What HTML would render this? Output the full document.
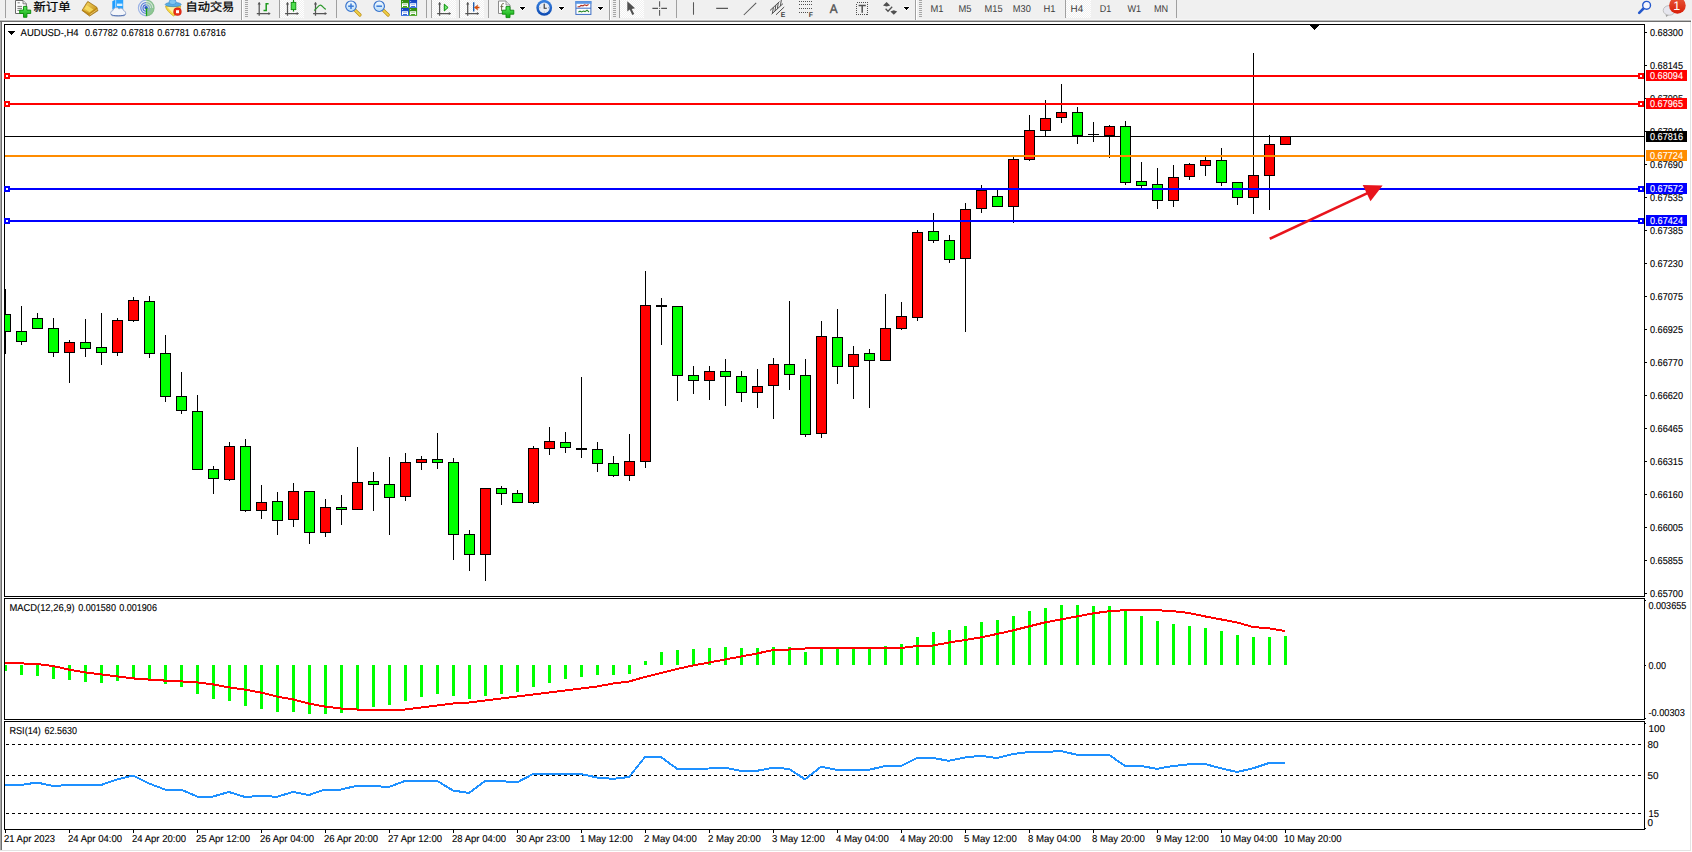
<!DOCTYPE html>
<html lang="zh-CN"><head><meta charset="utf-8"><title>AUDUSD-,H4</title>
<style>html,body{margin:0;padding:0;background:#fff;overflow:hidden}body{width:1692px;height:852px}svg text{white-space:pre}</style>
</head><body>
<svg width="1692" height="852" viewBox="0 0 1692 852" font-family="'Liberation Sans', 'Noto Sans CJK SC', sans-serif" text-rendering="geometricPrecision" style="display:block">
<rect x="0" y="0" width="1692" height="852" fill="#FFFFFF"/>
<g shape-rendering="crispEdges">
<rect x="0" y="0" width="1692" height="19" fill="#F0F0F0"/>
<rect x="0" y="19" width="1692" height="1" fill="#F6F6F6"/>
<rect x="0" y="20" width="1691" height="1" fill="#BDBDBD"/>
<rect x="0" y="21" width="1691" height="1" fill="#6D6D6D"/>
<rect x="0" y="22" width="1" height="829" fill="#A8A8A8"/>
<rect x="1" y="22" width="1" height="829" fill="#6D6D6D"/>
<rect x="1690" y="22" width="1" height="829" fill="#E3E3E3"/>
<rect x="0" y="850" width="1691" height="1" fill="#E3E3E3"/>
</g>
<defs>
<linearGradient id="gGold" x1="0" y1="0" x2="1" y2="1"><stop offset="0" stop-color="#F8DC6A"/><stop offset="1" stop-color="#C08A14"/></linearGradient>
<linearGradient id="gPlus" x1="0" y1="0" x2="0" y2="1"><stop offset="0" stop-color="#5CE85C"/><stop offset="1" stop-color="#0FA80F"/></linearGradient>
<linearGradient id="gBlue" x1="0" y1="0" x2="0" y2="1"><stop offset="0" stop-color="#6CB8F4"/><stop offset="1" stop-color="#2A78D8"/></linearGradient>
<linearGradient id="gBadge" x1="0" y1="0" x2="0" y2="1"><stop offset="0" stop-color="#E8583A"/><stop offset="1" stop-color="#D81E08"/></linearGradient>
<linearGradient id="gGlass" x1="0" y1="0" x2="0" y2="1"><stop offset="0" stop-color="#F4FAFF"/><stop offset="1" stop-color="#B8DCF8"/></linearGradient>
<g id="axes"><path d="M2.5 2.6V15.7M0.1 13.5H13.2" stroke="#555555" stroke-width="1.25" fill="none"/><path d="M0.9 4.4L2.5 1.9L4.1 4.4zM11.7 11.9L14 13.5L11.7 15.1z" fill="#555555"/></g>
<pattern id="chk" width="2" height="2" patternUnits="userSpaceOnUse"><rect width="2" height="2" fill="#F0F0F0"/><rect width="1" height="1" fill="#FFF"/><rect x="1" y="1" width="1" height="1" fill="#FFF"/></pattern>
<g id="dd" shape-rendering="crispEdges"><g fill="#FFF"><rect x="0" y="-1" width="5" height="1"/><rect x="-1" y="0" width="7" height="1"/><rect x="0" y="1" width="5" height="1"/><rect x="1" y="2" width="3" height="1"/><rect x="2" y="3" width="1" height="1"/></g><g fill="#000"><rect x="0" y="0" width="5" height="1"/><rect x="1" y="1" width="3" height="1"/><rect x="2" y="2" width="1" height="1"/></g></g>
<g id="grip" shape-rendering="crispEdges" fill="#A6A6A6"><rect y="1" width="3" height="1"/><rect y="3" width="3" height="1"/><rect y="5" width="3" height="1"/><rect y="7" width="3" height="1"/><rect y="9" width="3" height="1"/><rect y="11" width="3" height="1"/><rect y="13" width="3" height="1"/><rect y="15" width="3" height="1"/><rect y="17" width="3" height="1"/></g>
</defs>
<g id="toolbar">
<!-- pressed button backgrounds -->
<g shape-rendering="crispEdges" fill="url(#chk)">
<rect x="280" y="0" width="24" height="18"/><rect x="432" y="0" width="24" height="18"/><rect x="460" y="0" width="24" height="18"/><rect x="620" y="0" width="24" height="18"/><rect x="1066" y="0" width="25" height="18"/>
</g>
<!-- separators -->
<g shape-rendering="crispEdges" fill="#A0A0A0">
<rect x="5" y="0" width="1" height="18"/>
<rect x="241" y="0" width="1" height="20"/><rect x="609" y="0" width="1" height="20"/><rect x="915" y="0" width="1" height="20"/>
<rect x="279" y="0" width="1" height="18"/><rect x="336" y="0" width="1" height="18"/><rect x="426" y="0" width="1" height="18"/><rect x="431" y="0" width="1" height="18"/><rect x="459" y="0" width="1" height="18"/><rect x="488" y="0" width="1" height="18"/>
<rect x="619" y="0" width="1" height="18"/><rect x="676" y="0" width="1" height="18"/><rect x="1065" y="0" width="1" height="18"/><rect x="1176" y="0" width="1" height="18"/>
</g>
<g shape-rendering="crispEdges" fill="#FFFFFF"><rect x="242" y="0" width="1" height="20"/><rect x="610" y="0" width="1" height="20"/><rect x="916" y="0" width="1" height="20"/></g>
<use href="#grip" x="245" y="-1"/><use href="#grip" x="613" y="-1"/><use href="#grip" x="919" y="-1"/>

<!-- new order -->
<path d="M15.5 .5H23L26.3 3.8V13.5H15.5z" fill="#FDFDFD" stroke="#6A6A6A"/>
<path d="M23 .5V3.8H26.3" fill="#E4E4E4" stroke="#6A6A6A" stroke-width=".8"/>
<path d="M17.6 2.8H19.8M17.4 6.4H22M17.4 8.4H22M17.4 10.4H20" stroke="#7A7A7A" stroke-width="1"/>
<path d="M23.5 6.4h3.4v3.7h3.8v3.4h-3.8v3.8h-3.4v-3.8h-3.8v-3.4h3.8z" fill="url(#gPlus)" stroke="#0B8A0B" stroke-width=".9"/>
<text x="33.5" y="11.2" font-size="11.8" fill="#000" stroke="#000" stroke-width=".25" textLength="37" lengthAdjust="spacingAndGlyphs">新订单</text>
<!-- book -->
<path d="M87.8 1.4L96.8 7.2L98 10.6L89.6 16.1L82 10.4C83.6 8 86 3.6 87.8 1.4z" fill="#C08A14" stroke="#9A6A08" stroke-width=".7"/>
<path d="M88 2.2L96.4 7.6L89.2 13.6L83 9.8C84.4 7.6 86.4 4.2 88 2.2z" fill="url(#gGold)"/>
<path d="M86.6 5.2L93.4 9.4L89.6 12.2L84.6 8.8z" fill="#FCE264" fill-opacity=".8"/>
<path d="M89.7 14.8L97.5 9.4" stroke="#F0D890" stroke-width=".7"/>
<!-- box + cloud -->
<path d="M112.3 1.2L115.7 -0.5H123.1V9.4H112.3z" fill="#1E9CFF"/>
<path d="M115.7 -0.5V9.4H123.1V-0.5z" fill="#2AA4FF"/><path d="M115.7 -0.5V9.4" stroke="#D0ECFF" stroke-width=".8"/>
<rect x="117" y="3.6" width="5.4" height="2.4" fill="#D8F0FF"/>
<path d="M112.6 15.8a2.7 2.7 0 0 1 .4-5.3a3.3 3.3 0 0 1 6-1.5a2.7 2.7 0 0 1 4.6 1.7a2.6 2.6 0 0 1 .2 5.1z" fill="#F4F6FA" stroke="#90A4CC" stroke-width=".8"/>
<path d="M111.2 14.4C112.2 16.4 124.4 16.4 125.4 14.2" fill="none" stroke="#5070B0" stroke-width="1"/>
<!-- signal -->
<path d="M146.3 0a8 8 0 0 1 0 16z" fill="#CFE6CF"/>
<path d="M146.6 8L154 8A7.8 7.8 0 0 1 146.6 15.9z" fill="#8FCB8F"/>
<g fill="none" stroke-width="1.2">
<path d="M146.2 0.2a7.8 7.8 0 0 0 0 15.6" stroke="#9CB4E6"/><path d="M146.2 2.6a5.4 5.4 0 0 0 0 10.8" stroke="#5C82DA"/><path d="M146.2 4.8a3.2 3.2 0 0 0 0 6.4" stroke="#4670D6"/>
<path d="M146.2 0.2a7.8 7.8 0 0 1 0 15.6" stroke="#86BE8E"/><path d="M146.2 2.6a5.4 5.4 0 0 1 0 10.8" stroke="#8FBFA4"/><path d="M146.2 4.8a3.2 3.2 0 0 1 0 6.4" stroke="#88AED0"/>
</g>
<circle cx="146.1" cy="7.7" r="1.7" fill="#2858C8"/><path d="M146.5 8.2V15.9" stroke="#18A018" stroke-width="1.3"/>
<!-- autotrading -->
<path d="M165.6 6H180.6C180.6 9.5 177 14.5 173.6 16C170.6 14 165.6 9.6 165.6 6z" fill="#F6D848" stroke="#C8A018" stroke-width=".7"/>
<path d="M167.2 7H176.5L172.6 13z" fill="#FBEFA0"/>
<ellipse cx="173.2" cy="4.5" rx="8" ry="2.2" fill="#58AEE4" stroke="#2F80C4" stroke-width=".6"/>
<ellipse cx="172.6" cy="2" rx="3.6" ry="2.6" fill="#7CC4F0" stroke="#3A8CD0" stroke-width=".6"/>
<circle cx="177.5" cy="11.7" r="4.1" fill="#D42010"/><circle cx="177.5" cy="11.7" r="3.4" fill="#E83018"/><rect x="176" y="10.2" width="3" height="3" fill="#FFF"/>
<text x="185.5" y="11.2" font-size="11.8" fill="#000" stroke="#000" stroke-width=".25" textLength="48.8" lengthAdjust="spacingAndGlyphs">自动交易</text>

<!-- chart type icons -->
<use href="#axes" x="256.7"/>
<path d="M263.5 10.5H266.2V3.8H268.6" fill="none" stroke="#1E9A1E" stroke-width="1.5"/>
<use href="#axes" x="285"/>
<path d="M293.5 0V11.6" stroke="#118A11" stroke-width="1.2"/><rect x="291.2" y="2.4" width="4.6" height="7.2" fill="#4CE04C" stroke="#118A11" stroke-width=".9"/>
<use href="#axes" x="313"/>
<path d="M314.2 10.6C317 8.5 318.5 5 320.4 5.2C322.4 5.4 323.5 8.4 325.8 9.4" fill="none" stroke="#2E9A2E" stroke-width="1.2"/>
<!-- zoom in / out -->
<g id="zin"><path d="M355 10.2L360 15" stroke="#B88A10" stroke-width="3.2" stroke-linecap="round"/><path d="M355 10.2L360 15" stroke="#F0D048" stroke-width="1.8" stroke-linecap="round"/>
<circle cx="351" cy="6.2" r="5.25" fill="url(#gGlass)" stroke="#3672CC" stroke-width="1.15"/><path d="M348.2 6.2H353.8" stroke="#3A7AD6" stroke-width="1.5"/></g>
<path d="M351 3.4V9" stroke="#3A7AD6" stroke-width="1.5"/>
<use href="#zin" x="28.2"/>
<!-- tile -->
<defs><linearGradient id="gTg" x1="0" y1="0" x2="0" y2="1"><stop offset="0" stop-color="#2E8A0C"/><stop offset="1" stop-color="#4CA828"/></linearGradient><linearGradient id="gTb" x1="0" y1="0" x2="0" y2="1"><stop offset="0" stop-color="#1240C0"/><stop offset="1" stop-color="#3A70E0"/></linearGradient></defs>
<g><rect x="401" y="0" width="8" height="7.9" fill="url(#gTg)"/><rect x="409.1" y="0" width="8" height="7.9" fill="url(#gTb)"/><rect x="401" y="8" width="8" height="7.9" fill="url(#gTb)"/><rect x="409.1" y="8" width="8" height="7.9" fill="url(#gTg)"/>
<g fill="#FFFFFF"><path d="M402 3.2h6v3.8h-1v-1h-4v1h-1z"/><path d="M410.1 3.2h6v3.8h-1v-1h-4v1h-1z"/><path d="M402 11.2h6v3.8h-1v-1h-4v1h-1z"/><path d="M410.1 11.2h6v3.8h-1v-1h-4v1h-1z"/>
<rect x="402.2" y="1.2" width=".8" height=".8"/><rect x="410.3" y="1.2" width=".8" height=".8"/><rect x="402.2" y="9.2" width=".8" height=".8"/><rect x="410.3" y="9.2" width=".8" height=".8"/></g>
<g stroke-width=".8"><path d="M403 4.6H407" stroke="#9CCB88"/><path d="M411.1 4.6H415.1" stroke="#8CA8EC"/><path d="M403 12.6H407" stroke="#8CA8EC"/><path d="M411.1 12.6H415.1" stroke="#9CCB88"/></g></g>
<!-- autoscroll / shift -->
<use href="#axes" x="437.1"/><path d="M444.3 4.2V10.9L448.1 7.5z" fill="#70EC70" stroke="#0C8E0C" stroke-width="1"/>
<use href="#axes" x="465.2"/><path d="M473.7 2.3V11.6" stroke="#1E5EB0" stroke-width="1.4"/><path d="M474.3 7.5L477.8 4.9L477.2 6.9H479.2V8.1H477.2L477.8 10.1z" fill="#E05008" stroke="#B83808" stroke-width=".4"/>
<!-- indicators -->
<path d="M498.5 1H506L510 5V13.5H498.5z" fill="#FDFDFD" stroke="#8C8C8C"/><path d="M506 1V5H510" fill="#E4E4E4" stroke="#8C8C8C" stroke-width=".8"/>
<path d="M503.8 3.6C502 3.2 501.6 4.6 501.6 6V11M500.4 6.6H503.4" fill="none" stroke="#6E6A4A" stroke-width="1"/>
<path d="M506 6.6h4v3.6h3.8v4h-3.8v3.4h-4v-3.4h-3.7v-4h3.7z" fill="url(#gPlus)" stroke="#0B8A0B" stroke-width=".9"/>
<use href="#dd" x="520" y="7"/>
<!-- clock -->
<defs><linearGradient id="gClk" x1="0" y1="0" x2="0" y2="1"><stop offset="0" stop-color="#3C86E4"/><stop offset="1" stop-color="#0C48B0"/></linearGradient></defs>
<circle cx="544.2" cy="7.8" r="7.9" fill="url(#gClk)"/><circle cx="544.2" cy="7.8" r="5.4" fill="#E8ECF2"/>
<path d="M544.2 3.9V8.2H546.8" fill="none" stroke="#303030" stroke-width="1.1"/>
<g fill="#8090A8"><rect x="543.8" y="2.8" width=".8" height="1"/><rect x="543.8" y="11.6" width=".8" height="1"/><rect x="539.4" y="7.4" width="1" height=".8"/><rect x="548" y="7.4" width="1" height=".8"/></g>
<use href="#dd" x="559" y="7"/>
<!-- template -->
<rect x="575.9" y="1.6" width="15" height="12.8" fill="#FFFFFF" stroke="#3A6CC4" stroke-width="1"/><rect x="575.4" y="1.2" width="16" height="2.6" fill="#5C98E4"/><path d="M576 8.2H591" stroke="#3A6CC4" stroke-width="1"/>
<path d="M577.6 6.8L579.6 6.6L581 5.4L583 5.8L584.6 4.8L586.6 5.6L588.6 4.6" fill="none" stroke="#B03020" stroke-width="1.1"/>
<path d="M578.4 12L580 11.2L581.6 12L583.4 11L585 11.6L587 10.2L589 12" fill="none" stroke="#2A8A2A" stroke-width="1.1"/>
<use href="#dd" x="598" y="7"/>
<!-- cursor, crosshair, lines -->
<path d="M627.3 1.2V11.6L629.7 9.6L632.3 15L634.2 14.1L631.7 8.9L635 8.3z" fill="#505050"/>
<path d="M652.4 8.4H658M661.2 8.4H667M659.6 1.2V6.8M659.6 10V15.8" stroke="#555" stroke-width="1.05" fill="none"/><rect x="659.1" y="7.9" width="1" height="1" fill="#555"/>
<path d="M693.5 2.3V14.7M716.2 8.4H728" stroke="#585858" stroke-width="1.05" fill="none"/>
<path d="M743.8 15L756.2 2.8" stroke="#585858" stroke-width="1.05" fill="none"/>
<!-- channel -->
<g stroke="#505050" stroke-width="1" fill="none"><path d="M770 10.5L779.5 1.6M771.6 14.2L783 3.6M776 14.8L784.2 7"/><path d="M773.4 7.4L772.4 13.4M775.8 5.2L775 11M778.2 3L777.4 9M781.4 -0.5L780.4 6"/></g>
<text x="780.8" y="16.6" font-size="6.8" font-weight="bold" fill="#404040">E</text>
<!-- fib -->
<g stroke="#505050" stroke-width="1" stroke-dasharray="1 1" fill="none" shape-rendering="crispEdges"><path d="M799 1.5H812M799 4.5H812M799 8.5H812M799 12.5H808"/></g>
<text x="808.8" y="16.6" font-size="6.8" font-weight="bold" fill="#404040">F</text>
<text x="829.7" y="13" font-size="12.4" fill="#505050" stroke="#505050" stroke-width=".4" textLength="7.8" lengthAdjust="spacingAndGlyphs">A</text>
<rect x="856.5" y="2.5" width="11" height="12" fill="none" stroke="#505050" stroke-width="1" stroke-dasharray="1 1" shape-rendering="crispEdges"/>
<path d="M858.6 5.6H865.8M862.2 5.6V12.8" stroke="#505050" stroke-width="1.5" fill="none"/>
<!-- arrows -->
<path d="M883 5.4L886.6 2L890.2 5.4L886.6 6.6zM890.4 11.4L893.8 10.2L897.2 11.4L893.8 14.8z" fill="#505050"/><path d="M885.6 8.8L888 11.2L892.2 6.8" fill="none" stroke="#505050" stroke-width="1.3"/>
<use href="#dd" x="904" y="7"/>
<!-- timeframes -->
<g font-size="10" fill="#3C3C3C">
<text x="930.5" y="12" textLength="13" lengthAdjust="spacingAndGlyphs">M1</text>
<text x="958.5" y="12" textLength="13" lengthAdjust="spacingAndGlyphs">M5</text>
<text x="984.6" y="12" textLength="18" lengthAdjust="spacingAndGlyphs">M15</text>
<text x="1012.8" y="12" textLength="18" lengthAdjust="spacingAndGlyphs">M30</text>
<text x="1043.6" y="12" textLength="12" lengthAdjust="spacingAndGlyphs">H1</text>
<text x="1070.6" y="12" textLength="12.6" lengthAdjust="spacingAndGlyphs">H4</text>
<text x="1099.8" y="12" textLength="11.5" lengthAdjust="spacingAndGlyphs">D1</text>
<text x="1127.5" y="12" textLength="13.6" lengthAdjust="spacingAndGlyphs">W1</text>
<text x="1153.9" y="12" textLength="14.2" lengthAdjust="spacingAndGlyphs">MN</text>
</g>
<!-- search / chat -->
<path d="M1644 8L1639.2 12.8" stroke="#2458CC" stroke-width="2.6" stroke-linecap="round"/><circle cx="1646.6" cy="5.3" r="3.9" fill="#F6F6FC" stroke="#2458CC" stroke-width="1.4"/>
<path d="M1665.6 14.6L1666.2 17L1668.8 15z" fill="#A0A0A0"/><ellipse cx="1669.2" cy="10.4" rx="6" ry="4.8" fill="#E6E6EE" stroke="#B4B4B4" stroke-width=".8"/>
<circle cx="1677.4" cy="5.4" r="8.3" fill="url(#gBadge)"/>
<text x="1676.7" y="10.2" font-size="12.5" fill="#FFFFFF" text-anchor="middle">1</text>
</g>

<g shape-rendering="crispEdges">
<rect x="4" y="24" width="1641" height="1" fill="#000"/>
<rect x="4" y="596" width="1641" height="1" fill="#000"/>
<rect x="4" y="24" width="1" height="573" fill="#000"/>
<rect x="1644" y="24" width="1" height="573" fill="#000"/>
<rect x="4" y="598" width="1641" height="1" fill="#000"/>
<rect x="4" y="719" width="1641" height="1" fill="#000"/>
<rect x="4" y="598" width="1" height="122" fill="#000"/>
<rect x="1644" y="598" width="1" height="122" fill="#000"/>
<rect x="4" y="721" width="1641" height="1" fill="#000"/>
<rect x="4" y="829" width="1641" height="1" fill="#000"/>
<rect x="4" y="721" width="1" height="109" fill="#000"/>
<rect x="1644" y="721" width="1" height="109" fill="#000"/>
<clipPath id="cm"><rect x="5" y="25" width="1639" height="571"/></clipPath>
<rect x="5" y="136" width="1639" height="1" fill="#000"/>
<g clip-path="url(#cm)">
<rect x="5" y="289" width="1" height="65" fill="#000"/>
<rect x="0" y="314" width="11" height="18" fill="#000"/>
<rect x="1" y="315" width="9" height="16" fill="#00FF00"/>
<rect x="21" y="306" width="1" height="39" fill="#000"/>
<rect x="16" y="331" width="11" height="11" fill="#000"/>
<rect x="17" y="332" width="9" height="9" fill="#00FF00"/>
<rect x="37" y="313" width="1" height="16" fill="#000"/>
<rect x="32" y="318" width="11" height="11" fill="#000"/>
<rect x="33" y="319" width="9" height="9" fill="#00FF00"/>
<rect x="53" y="318" width="1" height="39" fill="#000"/>
<rect x="48" y="328" width="11" height="25" fill="#000"/>
<rect x="49" y="329" width="9" height="23" fill="#00FF00"/>
<rect x="69" y="340" width="1" height="43" fill="#000"/>
<rect x="64" y="342" width="11" height="11" fill="#000"/>
<rect x="65" y="343" width="9" height="9" fill="#FF0000"/>
<rect x="85" y="319" width="1" height="38" fill="#000"/>
<rect x="80" y="342" width="11" height="7" fill="#000"/>
<rect x="81" y="343" width="9" height="5" fill="#00FF00"/>
<rect x="101" y="313" width="1" height="52" fill="#000"/>
<rect x="96" y="347" width="11" height="6" fill="#000"/>
<rect x="97" y="348" width="9" height="4" fill="#00FF00"/>
<rect x="117" y="318" width="1" height="38" fill="#000"/>
<rect x="112" y="320" width="11" height="33" fill="#000"/>
<rect x="113" y="321" width="9" height="31" fill="#FF0000"/>
<rect x="133" y="297" width="1" height="25" fill="#000"/>
<rect x="128" y="300" width="11" height="21" fill="#000"/>
<rect x="129" y="301" width="9" height="19" fill="#FF0000"/>
<rect x="149" y="296" width="1" height="62" fill="#000"/>
<rect x="144" y="301" width="11" height="53" fill="#000"/>
<rect x="145" y="302" width="9" height="51" fill="#00FF00"/>
<rect x="165" y="335" width="1" height="67" fill="#000"/>
<rect x="160" y="353" width="11" height="44" fill="#000"/>
<rect x="161" y="354" width="9" height="42" fill="#00FF00"/>
<rect x="181" y="372" width="1" height="42" fill="#000"/>
<rect x="176" y="396" width="11" height="15" fill="#000"/>
<rect x="177" y="397" width="9" height="13" fill="#00FF00"/>
<rect x="197" y="395" width="1" height="75" fill="#000"/>
<rect x="192" y="411" width="11" height="59" fill="#000"/>
<rect x="193" y="412" width="9" height="57" fill="#00FF00"/>
<rect x="213" y="466" width="1" height="28" fill="#000"/>
<rect x="208" y="469" width="11" height="10" fill="#000"/>
<rect x="209" y="470" width="9" height="8" fill="#00FF00"/>
<rect x="229" y="442" width="1" height="39" fill="#000"/>
<rect x="224" y="446" width="11" height="34" fill="#000"/>
<rect x="225" y="447" width="9" height="32" fill="#FF0000"/>
<rect x="245" y="439" width="1" height="73" fill="#000"/>
<rect x="240" y="446" width="11" height="65" fill="#000"/>
<rect x="241" y="447" width="9" height="63" fill="#00FF00"/>
<rect x="261" y="485" width="1" height="34" fill="#000"/>
<rect x="256" y="502" width="11" height="9" fill="#000"/>
<rect x="257" y="503" width="9" height="7" fill="#FF0000"/>
<rect x="277" y="492" width="1" height="43" fill="#000"/>
<rect x="272" y="501" width="11" height="20" fill="#000"/>
<rect x="273" y="502" width="9" height="18" fill="#00FF00"/>
<rect x="293" y="483" width="1" height="44" fill="#000"/>
<rect x="288" y="491" width="11" height="29" fill="#000"/>
<rect x="289" y="492" width="9" height="27" fill="#FF0000"/>
<rect x="309" y="491" width="1" height="53" fill="#000"/>
<rect x="304" y="491" width="11" height="42" fill="#000"/>
<rect x="305" y="492" width="9" height="40" fill="#00FF00"/>
<rect x="325" y="499" width="1" height="38" fill="#000"/>
<rect x="320" y="507" width="11" height="26" fill="#000"/>
<rect x="321" y="508" width="9" height="24" fill="#FF0000"/>
<rect x="341" y="495" width="1" height="30" fill="#000"/>
<rect x="336" y="507" width="11" height="3" fill="#000"/>
<rect x="337" y="508" width="9" height="1" fill="#00FF00"/>
<rect x="357" y="447" width="1" height="63" fill="#000"/>
<rect x="352" y="482" width="11" height="28" fill="#000"/>
<rect x="353" y="483" width="9" height="26" fill="#FF0000"/>
<rect x="373" y="472" width="1" height="39" fill="#000"/>
<rect x="368" y="481" width="11" height="4" fill="#000"/>
<rect x="369" y="482" width="9" height="2" fill="#00FF00"/>
<rect x="389" y="457" width="1" height="78" fill="#000"/>
<rect x="384" y="484" width="11" height="14" fill="#000"/>
<rect x="385" y="485" width="9" height="12" fill="#00FF00"/>
<rect x="405" y="453" width="1" height="48" fill="#000"/>
<rect x="400" y="462" width="11" height="35" fill="#000"/>
<rect x="401" y="463" width="9" height="33" fill="#FF0000"/>
<rect x="421" y="456" width="1" height="14" fill="#000"/>
<rect x="416" y="459" width="11" height="4" fill="#000"/>
<rect x="417" y="460" width="9" height="2" fill="#FF0000"/>
<rect x="437" y="433" width="1" height="36" fill="#000"/>
<rect x="432" y="459" width="11" height="4" fill="#000"/>
<rect x="433" y="460" width="9" height="2" fill="#00FF00"/>
<rect x="453" y="458" width="1" height="102" fill="#000"/>
<rect x="448" y="462" width="11" height="73" fill="#000"/>
<rect x="449" y="463" width="9" height="71" fill="#00FF00"/>
<rect x="469" y="530" width="1" height="41" fill="#000"/>
<rect x="464" y="534" width="11" height="21" fill="#000"/>
<rect x="465" y="535" width="9" height="19" fill="#00FF00"/>
<rect x="485" y="488" width="1" height="93" fill="#000"/>
<rect x="480" y="488" width="11" height="67" fill="#000"/>
<rect x="481" y="489" width="9" height="65" fill="#FF0000"/>
<rect x="501" y="486" width="1" height="19" fill="#000"/>
<rect x="496" y="488" width="11" height="6" fill="#000"/>
<rect x="497" y="489" width="9" height="4" fill="#00FF00"/>
<rect x="517" y="490" width="1" height="13" fill="#000"/>
<rect x="512" y="493" width="11" height="10" fill="#000"/>
<rect x="513" y="494" width="9" height="8" fill="#00FF00"/>
<rect x="533" y="446" width="1" height="58" fill="#000"/>
<rect x="528" y="448" width="11" height="55" fill="#000"/>
<rect x="529" y="449" width="9" height="53" fill="#FF0000"/>
<rect x="549" y="427" width="1" height="28" fill="#000"/>
<rect x="544" y="441" width="11" height="8" fill="#000"/>
<rect x="545" y="442" width="9" height="6" fill="#FF0000"/>
<rect x="565" y="432" width="1" height="21" fill="#000"/>
<rect x="560" y="442" width="11" height="6" fill="#000"/>
<rect x="561" y="443" width="9" height="4" fill="#00FF00"/>
<rect x="581" y="377" width="1" height="81" fill="#000"/>
<rect x="576" y="448" width="11" height="2" fill="#000"/>
<rect x="597" y="442" width="1" height="30" fill="#000"/>
<rect x="592" y="449" width="11" height="15" fill="#000"/>
<rect x="593" y="450" width="9" height="13" fill="#00FF00"/>
<rect x="613" y="456" width="1" height="21" fill="#000"/>
<rect x="608" y="463" width="11" height="13" fill="#000"/>
<rect x="609" y="464" width="9" height="11" fill="#00FF00"/>
<rect x="629" y="434" width="1" height="47" fill="#000"/>
<rect x="624" y="461" width="11" height="15" fill="#000"/>
<rect x="625" y="462" width="9" height="13" fill="#FF0000"/>
<rect x="645" y="271" width="1" height="197" fill="#000"/>
<rect x="640" y="305" width="11" height="157" fill="#000"/>
<rect x="641" y="306" width="9" height="155" fill="#FF0000"/>
<rect x="661" y="298" width="1" height="47" fill="#000"/>
<rect x="656" y="305" width="11" height="2" fill="#000"/>
<rect x="677" y="306" width="1" height="95" fill="#000"/>
<rect x="672" y="306" width="11" height="70" fill="#000"/>
<rect x="673" y="307" width="9" height="68" fill="#00FF00"/>
<rect x="693" y="366" width="1" height="28" fill="#000"/>
<rect x="688" y="375" width="11" height="6" fill="#000"/>
<rect x="689" y="376" width="9" height="4" fill="#00FF00"/>
<rect x="709" y="366" width="1" height="34" fill="#000"/>
<rect x="704" y="371" width="11" height="10" fill="#000"/>
<rect x="705" y="372" width="9" height="8" fill="#FF0000"/>
<rect x="725" y="359" width="1" height="47" fill="#000"/>
<rect x="720" y="371" width="11" height="6" fill="#000"/>
<rect x="721" y="372" width="9" height="4" fill="#00FF00"/>
<rect x="741" y="371" width="1" height="31" fill="#000"/>
<rect x="736" y="376" width="11" height="17" fill="#000"/>
<rect x="737" y="377" width="9" height="15" fill="#00FF00"/>
<rect x="757" y="369" width="1" height="39" fill="#000"/>
<rect x="752" y="386" width="11" height="7" fill="#000"/>
<rect x="753" y="387" width="9" height="5" fill="#FF0000"/>
<rect x="773" y="358" width="1" height="61" fill="#000"/>
<rect x="768" y="364" width="11" height="22" fill="#000"/>
<rect x="769" y="365" width="9" height="20" fill="#FF0000"/>
<rect x="789" y="301" width="1" height="89" fill="#000"/>
<rect x="784" y="364" width="11" height="11" fill="#000"/>
<rect x="785" y="365" width="9" height="9" fill="#00FF00"/>
<rect x="805" y="359" width="1" height="78" fill="#000"/>
<rect x="800" y="375" width="11" height="60" fill="#000"/>
<rect x="801" y="376" width="9" height="58" fill="#00FF00"/>
<rect x="821" y="321" width="1" height="117" fill="#000"/>
<rect x="816" y="336" width="11" height="98" fill="#000"/>
<rect x="817" y="337" width="9" height="96" fill="#FF0000"/>
<rect x="837" y="309" width="1" height="75" fill="#000"/>
<rect x="832" y="337" width="11" height="30" fill="#000"/>
<rect x="833" y="338" width="9" height="28" fill="#00FF00"/>
<rect x="853" y="346" width="1" height="53" fill="#000"/>
<rect x="848" y="354" width="11" height="13" fill="#000"/>
<rect x="849" y="355" width="9" height="11" fill="#FF0000"/>
<rect x="869" y="349" width="1" height="59" fill="#000"/>
<rect x="864" y="353" width="11" height="8" fill="#000"/>
<rect x="865" y="354" width="9" height="6" fill="#00FF00"/>
<rect x="885" y="294" width="1" height="67" fill="#000"/>
<rect x="880" y="328" width="11" height="33" fill="#000"/>
<rect x="881" y="329" width="9" height="31" fill="#FF0000"/>
<rect x="901" y="302" width="1" height="28" fill="#000"/>
<rect x="896" y="316" width="11" height="13" fill="#000"/>
<rect x="897" y="317" width="9" height="11" fill="#FF0000"/>
<rect x="917" y="230" width="1" height="91" fill="#000"/>
<rect x="912" y="232" width="11" height="86" fill="#000"/>
<rect x="913" y="233" width="9" height="84" fill="#FF0000"/>
<rect x="933" y="213" width="1" height="30" fill="#000"/>
<rect x="928" y="231" width="11" height="10" fill="#000"/>
<rect x="929" y="232" width="9" height="8" fill="#00FF00"/>
<rect x="949" y="235" width="1" height="28" fill="#000"/>
<rect x="944" y="240" width="11" height="20" fill="#000"/>
<rect x="945" y="241" width="9" height="18" fill="#00FF00"/>
<rect x="965" y="203" width="1" height="129" fill="#000"/>
<rect x="960" y="209" width="11" height="50" fill="#000"/>
<rect x="961" y="210" width="9" height="48" fill="#FF0000"/>
<rect x="981" y="185" width="1" height="28" fill="#000"/>
<rect x="976" y="190" width="11" height="19" fill="#000"/>
<rect x="977" y="191" width="9" height="17" fill="#FF0000"/>
<rect x="997" y="190" width="1" height="17" fill="#000"/>
<rect x="992" y="196" width="11" height="11" fill="#000"/>
<rect x="993" y="197" width="9" height="9" fill="#00FF00"/>
<rect x="1013" y="157" width="1" height="66" fill="#000"/>
<rect x="1008" y="159" width="11" height="48" fill="#000"/>
<rect x="1009" y="160" width="9" height="46" fill="#FF0000"/>
<rect x="1029" y="115" width="1" height="46" fill="#000"/>
<rect x="1024" y="130" width="11" height="30" fill="#000"/>
<rect x="1025" y="131" width="9" height="28" fill="#FF0000"/>
<rect x="1045" y="100" width="1" height="36" fill="#000"/>
<rect x="1040" y="118" width="11" height="13" fill="#000"/>
<rect x="1041" y="119" width="9" height="11" fill="#FF0000"/>
<rect x="1061" y="84" width="1" height="39" fill="#000"/>
<rect x="1056" y="112" width="11" height="6" fill="#000"/>
<rect x="1057" y="113" width="9" height="4" fill="#FF0000"/>
<rect x="1077" y="107" width="1" height="37" fill="#000"/>
<rect x="1072" y="112" width="11" height="24" fill="#000"/>
<rect x="1073" y="113" width="9" height="22" fill="#00FF00"/>
<rect x="1093" y="122" width="1" height="20" fill="#000"/>
<rect x="1088" y="134" width="11" height="1" fill="#000"/>
<rect x="1109" y="125" width="1" height="33" fill="#000"/>
<rect x="1104" y="126" width="11" height="10" fill="#000"/>
<rect x="1105" y="127" width="9" height="8" fill="#FF0000"/>
<rect x="1125" y="121" width="1" height="64" fill="#000"/>
<rect x="1120" y="126" width="11" height="57" fill="#000"/>
<rect x="1121" y="127" width="9" height="55" fill="#00FF00"/>
<rect x="1141" y="162" width="1" height="26" fill="#000"/>
<rect x="1136" y="181" width="11" height="5" fill="#000"/>
<rect x="1137" y="182" width="9" height="3" fill="#00FF00"/>
<rect x="1157" y="168" width="1" height="41" fill="#000"/>
<rect x="1152" y="184" width="11" height="17" fill="#000"/>
<rect x="1153" y="185" width="9" height="15" fill="#00FF00"/>
<rect x="1173" y="165" width="1" height="42" fill="#000"/>
<rect x="1168" y="177" width="11" height="24" fill="#000"/>
<rect x="1169" y="178" width="9" height="22" fill="#FF0000"/>
<rect x="1189" y="163" width="1" height="17" fill="#000"/>
<rect x="1184" y="164" width="11" height="13" fill="#000"/>
<rect x="1185" y="165" width="9" height="11" fill="#FF0000"/>
<rect x="1205" y="157" width="1" height="19" fill="#000"/>
<rect x="1200" y="160" width="11" height="6" fill="#000"/>
<rect x="1201" y="161" width="9" height="4" fill="#FF0000"/>
<rect x="1221" y="148" width="1" height="38" fill="#000"/>
<rect x="1216" y="160" width="11" height="23" fill="#000"/>
<rect x="1217" y="161" width="9" height="21" fill="#00FF00"/>
<rect x="1237" y="182" width="1" height="23" fill="#000"/>
<rect x="1232" y="182" width="11" height="16" fill="#000"/>
<rect x="1233" y="183" width="9" height="14" fill="#00FF00"/>
<rect x="1253" y="53" width="1" height="161" fill="#000"/>
<rect x="1248" y="175" width="11" height="23" fill="#000"/>
<rect x="1249" y="176" width="9" height="21" fill="#FF0000"/>
<rect x="1269" y="135" width="1" height="75" fill="#000"/>
<rect x="1264" y="144" width="11" height="32" fill="#000"/>
<rect x="1265" y="145" width="9" height="30" fill="#FF0000"/>
<rect x="1285" y="136" width="1" height="9" fill="#000"/>
<rect x="1280" y="136" width="11" height="9" fill="#000"/>
<rect x="1281" y="137" width="9" height="7" fill="#FF0000"/>
</g>
<rect x="5" y="75" width="1639" height="2" fill="#FF0000"/>
<rect x="4" y="73" width="6" height="6" fill="#FF0000"/>
<rect x="6" y="75" width="2" height="2" fill="#FFF"/>
<rect x="1638" y="73" width="6" height="6" fill="#FF0000"/>
<rect x="1640" y="75" width="2" height="2" fill="#FFF"/>
<rect x="5" y="103" width="1639" height="2" fill="#FF0000"/>
<rect x="4" y="101" width="6" height="6" fill="#FF0000"/>
<rect x="6" y="103" width="2" height="2" fill="#FFF"/>
<rect x="1638" y="101" width="6" height="6" fill="#FF0000"/>
<rect x="1640" y="103" width="2" height="2" fill="#FFF"/>
<rect x="5" y="155" width="1639" height="2" fill="#FF8C00"/>
<rect x="5" y="188" width="1639" height="2" fill="#0000FF"/>
<rect x="4" y="186" width="6" height="6" fill="#0000FF"/>
<rect x="6" y="188" width="2" height="2" fill="#FFF"/>
<rect x="1638" y="186" width="6" height="6" fill="#0000FF"/>
<rect x="1640" y="188" width="2" height="2" fill="#FFF"/>
<rect x="5" y="220" width="1639" height="2" fill="#0000FF"/>
<rect x="4" y="218" width="6" height="6" fill="#0000FF"/>
<rect x="6" y="220" width="2" height="2" fill="#FFF"/>
<rect x="1638" y="218" width="6" height="6" fill="#0000FF"/>
<rect x="1640" y="220" width="2" height="2" fill="#FFF"/>
<rect x="1310" y="25" width="9" height="1" fill="#000"/>
<rect x="1311" y="26" width="7" height="1" fill="#000"/>
<rect x="1312" y="27" width="5" height="1" fill="#000"/>
<rect x="1313" y="28" width="3" height="1" fill="#000"/>
<rect x="1314" y="29" width="1" height="1" fill="#000"/>
<rect x="1645" y="32" width="2" height="1" fill="#000"/>
<rect x="1645" y="65" width="2" height="1" fill="#000"/>
<rect x="1645" y="98" width="2" height="1" fill="#000"/>
<rect x="1645" y="131" width="2" height="1" fill="#000"/>
<rect x="1645" y="164" width="2" height="1" fill="#000"/>
<rect x="1645" y="197" width="2" height="1" fill="#000"/>
<rect x="1645" y="230" width="2" height="1" fill="#000"/>
<rect x="1645" y="263" width="2" height="1" fill="#000"/>
<rect x="1645" y="296" width="2" height="1" fill="#000"/>
<rect x="1645" y="329" width="2" height="1" fill="#000"/>
<rect x="1645" y="362" width="2" height="1" fill="#000"/>
<rect x="1645" y="395" width="2" height="1" fill="#000"/>
<rect x="1645" y="428" width="2" height="1" fill="#000"/>
<rect x="1645" y="461" width="2" height="1" fill="#000"/>
<rect x="1645" y="494" width="2" height="1" fill="#000"/>
<rect x="1645" y="527" width="2" height="1" fill="#000"/>
<rect x="1645" y="560" width="2" height="1" fill="#000"/>
<rect x="1645" y="593" width="2" height="1" fill="#000"/>
</g>
<text x="1650" y="36.2" font-size="10" fill="#000" stroke="#000" stroke-width=".12" textLength="33" lengthAdjust="spacingAndGlyphs">0.68300</text>
<text x="1650" y="69.2" font-size="10" fill="#000" stroke="#000" stroke-width=".12" textLength="33" lengthAdjust="spacingAndGlyphs">0.68145</text>
<text x="1650" y="102.2" font-size="10" fill="#000" stroke="#000" stroke-width=".12" textLength="33" lengthAdjust="spacingAndGlyphs">0.67995</text>
<text x="1650" y="135.2" font-size="10" fill="#000" stroke="#000" stroke-width=".12" textLength="33" lengthAdjust="spacingAndGlyphs">0.67840</text>
<text x="1650" y="168.2" font-size="10" fill="#000" stroke="#000" stroke-width=".12" textLength="33" lengthAdjust="spacingAndGlyphs">0.67690</text>
<text x="1650" y="201.2" font-size="10" fill="#000" stroke="#000" stroke-width=".12" textLength="33" lengthAdjust="spacingAndGlyphs">0.67535</text>
<text x="1650" y="234.2" font-size="10" fill="#000" stroke="#000" stroke-width=".12" textLength="33" lengthAdjust="spacingAndGlyphs">0.67385</text>
<text x="1650" y="267.2" font-size="10" fill="#000" stroke="#000" stroke-width=".12" textLength="33" lengthAdjust="spacingAndGlyphs">0.67230</text>
<text x="1650" y="300.2" font-size="10" fill="#000" stroke="#000" stroke-width=".12" textLength="33" lengthAdjust="spacingAndGlyphs">0.67075</text>
<text x="1650" y="333.2" font-size="10" fill="#000" stroke="#000" stroke-width=".12" textLength="33" lengthAdjust="spacingAndGlyphs">0.66925</text>
<text x="1650" y="366.2" font-size="10" fill="#000" stroke="#000" stroke-width=".12" textLength="33" lengthAdjust="spacingAndGlyphs">0.66770</text>
<text x="1650" y="399.2" font-size="10" fill="#000" stroke="#000" stroke-width=".12" textLength="33" lengthAdjust="spacingAndGlyphs">0.66620</text>
<text x="1650" y="432.2" font-size="10" fill="#000" stroke="#000" stroke-width=".12" textLength="33" lengthAdjust="spacingAndGlyphs">0.66465</text>
<text x="1650" y="465.2" font-size="10" fill="#000" stroke="#000" stroke-width=".12" textLength="33" lengthAdjust="spacingAndGlyphs">0.66315</text>
<text x="1650" y="498.2" font-size="10" fill="#000" stroke="#000" stroke-width=".12" textLength="33" lengthAdjust="spacingAndGlyphs">0.66160</text>
<text x="1650" y="531.2" font-size="10" fill="#000" stroke="#000" stroke-width=".12" textLength="33" lengthAdjust="spacingAndGlyphs">0.66005</text>
<text x="1650" y="564.2" font-size="10" fill="#000" stroke="#000" stroke-width=".12" textLength="33" lengthAdjust="spacingAndGlyphs">0.65855</text>
<text x="1650" y="597.2" font-size="10" fill="#000" stroke="#000" stroke-width=".12" textLength="33" lengthAdjust="spacingAndGlyphs">0.65700</text>
<rect x="1646" y="70" width="41" height="11" fill="#FF0000" shape-rendering="crispEdges"/>
<text x="1650" y="79.2" font-size="10" fill="#FFF" stroke="#FFF" stroke-width=".12" textLength="33" lengthAdjust="spacingAndGlyphs">0.68094</text>
<rect x="1646" y="98" width="41" height="11" fill="#FF0000" shape-rendering="crispEdges"/>
<text x="1650" y="107.2" font-size="10" fill="#FFF" stroke="#FFF" stroke-width=".12" textLength="33" lengthAdjust="spacingAndGlyphs">0.67965</text>
<rect x="1646" y="131" width="41" height="11" fill="#000" shape-rendering="crispEdges"/>
<text x="1650" y="140.2" font-size="10" fill="#FFF" stroke="#FFF" stroke-width=".12" textLength="33" lengthAdjust="spacingAndGlyphs">0.67816</text>
<rect x="1646" y="150" width="41" height="11" fill="#FF8C00" shape-rendering="crispEdges"/>
<text x="1650" y="159.2" font-size="10" fill="#FFF" stroke="#FFF" stroke-width=".12" textLength="33" lengthAdjust="spacingAndGlyphs">0.67724</text>
<rect x="1646" y="183" width="41" height="11" fill="#0000FF" shape-rendering="crispEdges"/>
<text x="1650" y="192.2" font-size="10" fill="#FFF" stroke="#FFF" stroke-width=".12" textLength="33" lengthAdjust="spacingAndGlyphs">0.67572</text>
<rect x="1646" y="215" width="41" height="11" fill="#0000FF" shape-rendering="crispEdges"/>
<text x="1650" y="224.2" font-size="10" fill="#FFF" stroke="#FFF" stroke-width=".12" textLength="33" lengthAdjust="spacingAndGlyphs">0.67424</text>
<g shape-rendering="crispEdges">
<rect x="8" y="31" width="7" height="1" fill="#000"/>
<rect x="9" y="32" width="5" height="1" fill="#000"/>
<rect x="10" y="33" width="3" height="1" fill="#000"/>
<rect x="11" y="34" width="1" height="1" fill="#000"/>
</g>
<text x="20.6" y="36.3" font-size="10" fill="#000" stroke="#000" stroke-width=".12" textLength="58" lengthAdjust="spacingAndGlyphs">AUDUSD-,H4</text>
<text x="85.1" y="36.3" font-size="10" fill="#000" stroke="#000" stroke-width=".12" textLength="32.6" lengthAdjust="spacingAndGlyphs">0.67782</text>
<text x="121.2" y="36.3" font-size="10" fill="#000" stroke="#000" stroke-width=".12" textLength="32.6" lengthAdjust="spacingAndGlyphs">0.67818</text>
<text x="157.2" y="36.3" font-size="10" fill="#000" stroke="#000" stroke-width=".12" textLength="32.6" lengthAdjust="spacingAndGlyphs">0.67781</text>
<text x="193.2" y="36.3" font-size="10" fill="#000" stroke="#000" stroke-width=".12" textLength="32.6" lengthAdjust="spacingAndGlyphs">0.67816</text>
<g fill="#E8141C" stroke="none"><path d="M1269.2 237.6 L1270.3 239.9 L1368.6 194.0 L1367.5 191.7z"/><path d="M1362.7 185.0 L1382.6 185.4 L1370.5 201.3z"/></g>
<g shape-rendering="crispEdges">
<clipPath id="c2"><rect x="5" y="599" width="1639" height="120"/></clipPath>
<g clip-path="url(#c2)">
<rect x="4" y="665" width="3" height="6" fill="#00FF00"/>
<rect x="20" y="665" width="3" height="10" fill="#00FF00"/>
<rect x="36" y="665" width="3" height="11" fill="#00FF00"/>
<rect x="52" y="665" width="3" height="14" fill="#00FF00"/>
<rect x="68" y="665" width="3" height="15" fill="#00FF00"/>
<rect x="84" y="665" width="3" height="17" fill="#00FF00"/>
<rect x="100" y="665" width="3" height="18" fill="#00FF00"/>
<rect x="116" y="665" width="3" height="16" fill="#00FF00"/>
<rect x="132" y="665" width="3" height="14" fill="#00FF00"/>
<rect x="148" y="665" width="3" height="14" fill="#00FF00"/>
<rect x="164" y="665" width="3" height="19" fill="#00FF00"/>
<rect x="180" y="665" width="3" height="22" fill="#00FF00"/>
<rect x="196" y="665" width="3" height="29" fill="#00FF00"/>
<rect x="212" y="665" width="3" height="34" fill="#00FF00"/>
<rect x="228" y="665" width="3" height="36" fill="#00FF00"/>
<rect x="244" y="665" width="3" height="41" fill="#00FF00"/>
<rect x="260" y="665" width="3" height="44" fill="#00FF00"/>
<rect x="276" y="665" width="3" height="47" fill="#00FF00"/>
<rect x="292" y="665" width="3" height="47" fill="#00FF00"/>
<rect x="308" y="665" width="3" height="49" fill="#00FF00"/>
<rect x="324" y="665" width="3" height="49" fill="#00FF00"/>
<rect x="340" y="665" width="3" height="48" fill="#00FF00"/>
<rect x="356" y="665" width="3" height="45" fill="#00FF00"/>
<rect x="372" y="665" width="3" height="42" fill="#00FF00"/>
<rect x="388" y="665" width="3" height="40" fill="#00FF00"/>
<rect x="404" y="665" width="3" height="36" fill="#00FF00"/>
<rect x="420" y="665" width="3" height="32" fill="#00FF00"/>
<rect x="436" y="665" width="3" height="29" fill="#00FF00"/>
<rect x="452" y="665" width="3" height="31" fill="#00FF00"/>
<rect x="468" y="665" width="3" height="34" fill="#00FF00"/>
<rect x="484" y="665" width="3" height="31" fill="#00FF00"/>
<rect x="500" y="665" width="3" height="29" fill="#00FF00"/>
<rect x="516" y="665" width="3" height="27" fill="#00FF00"/>
<rect x="532" y="665" width="3" height="22" fill="#00FF00"/>
<rect x="548" y="665" width="3" height="18" fill="#00FF00"/>
<rect x="564" y="665" width="3" height="14" fill="#00FF00"/>
<rect x="580" y="665" width="3" height="12" fill="#00FF00"/>
<rect x="596" y="665" width="3" height="10" fill="#00FF00"/>
<rect x="612" y="665" width="3" height="10" fill="#00FF00"/>
<rect x="628" y="665" width="3" height="9" fill="#00FF00"/>
<rect x="644" y="661" width="3" height="4" fill="#00FF00"/>
<rect x="660" y="652" width="3" height="13" fill="#00FF00"/>
<rect x="676" y="650" width="3" height="15" fill="#00FF00"/>
<rect x="692" y="649" width="3" height="16" fill="#00FF00"/>
<rect x="708" y="648" width="3" height="17" fill="#00FF00"/>
<rect x="724" y="647" width="3" height="18" fill="#00FF00"/>
<rect x="740" y="648" width="3" height="17" fill="#00FF00"/>
<rect x="756" y="648" width="3" height="17" fill="#00FF00"/>
<rect x="772" y="647" width="3" height="18" fill="#00FF00"/>
<rect x="788" y="647" width="3" height="18" fill="#00FF00"/>
<rect x="804" y="652" width="3" height="13" fill="#00FF00"/>
<rect x="820" y="648" width="3" height="17" fill="#00FF00"/>
<rect x="836" y="648" width="3" height="17" fill="#00FF00"/>
<rect x="852" y="648" width="3" height="17" fill="#00FF00"/>
<rect x="868" y="648" width="3" height="17" fill="#00FF00"/>
<rect x="884" y="646" width="3" height="19" fill="#00FF00"/>
<rect x="900" y="644" width="3" height="21" fill="#00FF00"/>
<rect x="916" y="637" width="3" height="28" fill="#00FF00"/>
<rect x="932" y="632" width="3" height="33" fill="#00FF00"/>
<rect x="948" y="630" width="3" height="35" fill="#00FF00"/>
<rect x="964" y="626" width="3" height="39" fill="#00FF00"/>
<rect x="980" y="622" width="3" height="43" fill="#00FF00"/>
<rect x="996" y="620" width="3" height="45" fill="#00FF00"/>
<rect x="1012" y="616" width="3" height="49" fill="#00FF00"/>
<rect x="1028" y="611" width="3" height="54" fill="#00FF00"/>
<rect x="1044" y="608" width="3" height="57" fill="#00FF00"/>
<rect x="1060" y="605" width="3" height="60" fill="#00FF00"/>
<rect x="1076" y="605" width="3" height="60" fill="#00FF00"/>
<rect x="1092" y="606" width="3" height="59" fill="#00FF00"/>
<rect x="1108" y="606" width="3" height="59" fill="#00FF00"/>
<rect x="1124" y="611" width="3" height="54" fill="#00FF00"/>
<rect x="1140" y="616" width="3" height="49" fill="#00FF00"/>
<rect x="1156" y="621" width="3" height="44" fill="#00FF00"/>
<rect x="1172" y="624" width="3" height="41" fill="#00FF00"/>
<rect x="1188" y="626" width="3" height="39" fill="#00FF00"/>
<rect x="1204" y="628" width="3" height="37" fill="#00FF00"/>
<rect x="1220" y="631" width="3" height="34" fill="#00FF00"/>
<rect x="1236" y="635" width="3" height="30" fill="#00FF00"/>
<rect x="1252" y="637" width="3" height="28" fill="#00FF00"/>
<rect x="1268" y="637" width="3" height="28" fill="#00FF00"/>
<rect x="1284" y="636" width="3" height="29" fill="#00FF00"/>
<polyline points="5,663 21,663.4 37,664 53,666 69,669.6 85,672.4 101,674.4 117,676.4 133,678.4 149,679.6 165,680.6 181,681.4 197,682.4 213,684.4 229,687.4 245,689.6 261,692.6 277,696.6 293,699.4 309,703.6 325,706.6 341,708.5 357,709.5 373,710 389,710 405,709.5 421,707.5 437,705.5 453,703.5 469,702.5 485,700.5 501,698.5 517,696.5 533,694.5 549,692.5 565,690.5 581,688.5 597,686.5 613,683.5 629,681.5 645,677 661,673 677,669 693,665.5 709,662.5 725,659.5 741,656.5 757,653.5 773,650 789,649.5 805,648.5 821,648 837,648 853,648 869,648 885,648 901,648 917,646 933,645.5 949,642.5 965,640 981,637.3 997,634 1013,630.4 1029,626.4 1045,622.4 1061,619.4 1077,616.4 1093,613.4 1109,611.2 1125,610.2 1141,610.2 1157,610.2 1173,611.2 1189,613 1205,616.4 1221,619.4 1237,622.4 1253,627 1269,628.4 1285,631" fill="none" stroke="#FF0000" stroke-width="2" stroke-linejoin="round"/>
</g>
<rect x="1645" y="600" width="1" height="1" fill="#000"/>
<rect x="1645" y="665" width="1" height="1" fill="#000"/>
<rect x="1645" y="718" width="1" height="1" fill="#000"/>
<rect x="1645" y="723" width="1" height="1" fill="#000"/>
<rect x="1645" y="828" width="1" height="1" fill="#000"/>
</g>
<text x="9.4" y="611" font-size="10" fill="#000" stroke="#000" stroke-width=".12" textLength="65.2" lengthAdjust="spacingAndGlyphs">MACD(12,26,9)</text>
<text x="78.3" y="611" font-size="10" fill="#000" stroke="#000" stroke-width=".12" textLength="37.6" lengthAdjust="spacingAndGlyphs">0.001580</text>
<text x="119.3" y="611" font-size="10" fill="#000" stroke="#000" stroke-width=".12" textLength="37.6" lengthAdjust="spacingAndGlyphs">0.001906</text>
<text x="1648.4" y="609" font-size="10" fill="#000" stroke="#000" stroke-width=".12" textLength="38" lengthAdjust="spacingAndGlyphs">0.003655</text>
<text x="1648.4" y="669" font-size="10" fill="#000" stroke="#000" stroke-width=".12" textLength="17.5" lengthAdjust="spacingAndGlyphs">0.00</text>
<text x="1648.4" y="716.3" font-size="10" fill="#000" stroke="#000" stroke-width=".12" textLength="36.5" lengthAdjust="spacingAndGlyphs">-0.00303</text>
<g shape-rendering="crispEdges">
<path d="M6 744.5H1643" stroke="#000" stroke-width="1" stroke-dasharray="3 3" fill="none"/>
<path d="M6 775.5H1643" stroke="#000" stroke-width="1" stroke-dasharray="3 3" fill="none"/>
<path d="M6 813.5H1643" stroke="#000" stroke-width="1" stroke-dasharray="3 3" fill="none"/>
<clipPath id="c3"><rect x="5" y="722" width="1639" height="107"/></clipPath>
<polyline clip-path="url(#c3)" points="5,785 21,785 37,782.5 53,786 69,785 85,785 101,785 117,779.5 133,775.5 149,783.5 165,789.5 181,789.5 197,796.5 213,796.5 229,792 245,797 261,795.8 277,796.8 293,792 309,795 325,789.5 341,789.5 357,785.8 373,786 389,787 405,781 421,780.8 437,780.8 453,790.5 469,793 485,781 501,781 517,782.5 533,774 549,774 565,774 581,774 597,777.5 613,778.8 629,777 645,757 661,757 677,768.8 693,768.8 709,768.5 725,767.8 741,770.8 757,770.8 773,767.8 789,768.8 805,779.3 821,766.8 837,769.8 853,769.8 869,769.8 885,766 901,766 917,758 933,758 949,760.8 965,757.5 981,755.8 997,758 1013,754 1029,752 1045,752 1061,751 1077,754.8 1093,754.8 1109,754.8 1125,766 1141,766 1157,768.8 1173,766 1189,764.3 1205,764 1221,768.3 1237,772 1253,768.3 1269,763 1285,762.8" fill="none" stroke="#1E90FF" stroke-width="2" stroke-linejoin="round"/>
<rect x="5" y="830" width="1" height="3" fill="#000"/>
<rect x="69" y="830" width="1" height="3" fill="#000"/>
<rect x="133" y="830" width="1" height="3" fill="#000"/>
<rect x="197" y="830" width="1" height="3" fill="#000"/>
<rect x="261" y="830" width="1" height="3" fill="#000"/>
<rect x="325" y="830" width="1" height="3" fill="#000"/>
<rect x="389" y="830" width="1" height="3" fill="#000"/>
<rect x="453" y="830" width="1" height="3" fill="#000"/>
<rect x="517" y="830" width="1" height="3" fill="#000"/>
<rect x="581" y="830" width="1" height="3" fill="#000"/>
<rect x="645" y="830" width="1" height="3" fill="#000"/>
<rect x="709" y="830" width="1" height="3" fill="#000"/>
<rect x="773" y="830" width="1" height="3" fill="#000"/>
<rect x="837" y="830" width="1" height="3" fill="#000"/>
<rect x="901" y="830" width="1" height="3" fill="#000"/>
<rect x="965" y="830" width="1" height="3" fill="#000"/>
<rect x="1029" y="830" width="1" height="3" fill="#000"/>
<rect x="1093" y="830" width="1" height="3" fill="#000"/>
<rect x="1157" y="830" width="1" height="3" fill="#000"/>
<rect x="1221" y="830" width="1" height="3" fill="#000"/>
<rect x="1285" y="830" width="1" height="3" fill="#000"/>
</g>
<text x="9.4" y="734" font-size="10" fill="#000" stroke="#000" stroke-width=".12" textLength="31.5" lengthAdjust="spacingAndGlyphs">RSI(14)</text>
<text x="44.6" y="734" font-size="10" fill="#000" stroke="#000" stroke-width=".12" textLength="32.4" lengthAdjust="spacingAndGlyphs">62.5630</text>
<text x="1648.4" y="732.3" font-size="10" fill="#000" stroke="#000" stroke-width=".12" textLength="16.5" lengthAdjust="spacingAndGlyphs">100</text>
<text x="1647.6" y="748.3" font-size="10" fill="#000" stroke="#000" stroke-width=".12" textLength="11" lengthAdjust="spacingAndGlyphs">80</text>
<text x="1647.6" y="779.3" font-size="10" fill="#000" stroke="#000" stroke-width=".12" textLength="11" lengthAdjust="spacingAndGlyphs">50</text>
<text x="1648.4" y="817.3" font-size="10" fill="#000" stroke="#000" stroke-width=".12" textLength="10.5" lengthAdjust="spacingAndGlyphs">15</text>
<text x="1647.6" y="826.3" font-size="10" fill="#000" stroke="#000" stroke-width=".12" textLength="5.5" lengthAdjust="spacingAndGlyphs">0</text>
<text x="4" y="842" font-size="10" fill="#000" stroke="#000" stroke-width=".12" textLength="51" lengthAdjust="spacingAndGlyphs">21 Apr 2023</text>
<text x="68" y="842" font-size="10" fill="#000" stroke="#000" stroke-width=".12" textLength="54" lengthAdjust="spacingAndGlyphs">24 Apr 04:00</text>
<text x="132" y="842" font-size="10" fill="#000" stroke="#000" stroke-width=".12" textLength="54" lengthAdjust="spacingAndGlyphs">24 Apr 20:00</text>
<text x="196" y="842" font-size="10" fill="#000" stroke="#000" stroke-width=".12" textLength="54" lengthAdjust="spacingAndGlyphs">25 Apr 12:00</text>
<text x="260" y="842" font-size="10" fill="#000" stroke="#000" stroke-width=".12" textLength="54" lengthAdjust="spacingAndGlyphs">26 Apr 04:00</text>
<text x="324" y="842" font-size="10" fill="#000" stroke="#000" stroke-width=".12" textLength="54" lengthAdjust="spacingAndGlyphs">26 Apr 20:00</text>
<text x="388" y="842" font-size="10" fill="#000" stroke="#000" stroke-width=".12" textLength="54" lengthAdjust="spacingAndGlyphs">27 Apr 12:00</text>
<text x="452" y="842" font-size="10" fill="#000" stroke="#000" stroke-width=".12" textLength="54" lengthAdjust="spacingAndGlyphs">28 Apr 04:00</text>
<text x="516" y="842" font-size="10" fill="#000" stroke="#000" stroke-width=".12" textLength="54" lengthAdjust="spacingAndGlyphs">30 Apr 23:00</text>
<text x="580" y="842" font-size="10" fill="#000" stroke="#000" stroke-width=".12" textLength="52.8" lengthAdjust="spacingAndGlyphs">1 May 12:00</text>
<text x="644" y="842" font-size="10" fill="#000" stroke="#000" stroke-width=".12" textLength="52.8" lengthAdjust="spacingAndGlyphs">2 May 04:00</text>
<text x="708" y="842" font-size="10" fill="#000" stroke="#000" stroke-width=".12" textLength="52.8" lengthAdjust="spacingAndGlyphs">2 May 20:00</text>
<text x="772" y="842" font-size="10" fill="#000" stroke="#000" stroke-width=".12" textLength="52.8" lengthAdjust="spacingAndGlyphs">3 May 12:00</text>
<text x="836" y="842" font-size="10" fill="#000" stroke="#000" stroke-width=".12" textLength="52.8" lengthAdjust="spacingAndGlyphs">4 May 04:00</text>
<text x="900" y="842" font-size="10" fill="#000" stroke="#000" stroke-width=".12" textLength="52.8" lengthAdjust="spacingAndGlyphs">4 May 20:00</text>
<text x="964" y="842" font-size="10" fill="#000" stroke="#000" stroke-width=".12" textLength="52.8" lengthAdjust="spacingAndGlyphs">5 May 12:00</text>
<text x="1028" y="842" font-size="10" fill="#000" stroke="#000" stroke-width=".12" textLength="52.8" lengthAdjust="spacingAndGlyphs">8 May 04:00</text>
<text x="1092" y="842" font-size="10" fill="#000" stroke="#000" stroke-width=".12" textLength="52.8" lengthAdjust="spacingAndGlyphs">8 May 20:00</text>
<text x="1156" y="842" font-size="10" fill="#000" stroke="#000" stroke-width=".12" textLength="52.8" lengthAdjust="spacingAndGlyphs">9 May 12:00</text>
<text x="1220" y="842" font-size="10" fill="#000" stroke="#000" stroke-width=".12" textLength="57.6" lengthAdjust="spacingAndGlyphs">10 May 04:00</text>
<text x="1284" y="842" font-size="10" fill="#000" stroke="#000" stroke-width=".12" textLength="57.6" lengthAdjust="spacingAndGlyphs">10 May 20:00</text>
</svg>
</body></html>
